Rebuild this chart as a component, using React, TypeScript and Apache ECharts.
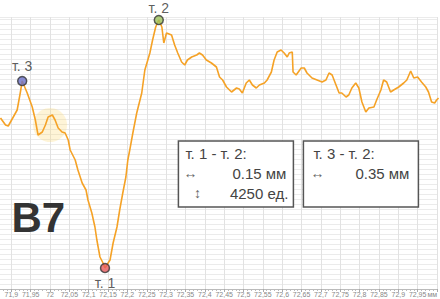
import React, { useEffect, useRef } from "react";
import * as echarts from "echarts";

// profile, x in mm, y in arbitrary units
const xs: number[] = [
  71.872, 71.885, 71.892, 71.905, 71.915, 71.923, 71.928, 71.941, 71.954, 71.962, 71.969, 71.98, 71.988, 71.995,
  72.006, 72.013, 72.021, 72.031, 72.039, 72.047, 72.052, 72.065, 72.072, 72.083, 72.093, 72.098, 72.108, 72.116,
  72.121, 72.129, 72.137, 72.142, 72.155, 72.163, 72.173, 72.18, 72.188, 72.196, 72.201, 72.206, 72.214, 72.224,
  72.237, 72.245, 72.258, 72.265, 72.273, 72.281, 72.289, 72.294, 72.301, 72.314, 72.322, 72.33, 72.34, 72.348,
  72.355, 72.366, 72.379, 72.386, 72.394, 72.404, 72.417, 72.43, 72.438, 72.446, 72.456, 72.469, 72.482, 72.489,
  72.497, 72.507, 72.515, 72.523, 72.533, 72.541, 72.554, 72.561, 72.572, 72.579, 72.587, 72.597, 72.605, 72.613,
  72.618, 72.626, 72.628, 72.636, 72.649, 72.657, 72.664, 72.677, 72.69, 72.703, 72.713, 72.721, 72.729, 72.739,
  72.747, 72.754, 72.765, 72.772, 72.78, 72.79, 72.798, 72.806, 72.816, 72.824, 72.837, 72.844, 72.855, 72.862,
  72.87, 72.88, 72.888, 72.901, 72.914, 72.922, 72.932, 72.94, 72.95, 72.96, 72.971, 72.978, 72.986, 72.994,
  72.999, 73.004,
];
const ys: number[] = [
  171, 164, 163, 172, 179, 196, 208, 196, 182, 169, 154, 157, 164, 172,
  174, 169, 161, 157, 156, 149, 139, 129, 119, 106, 99, 89, 76, 62,
  49, 32, 26, 21, 29, 46, 62, 79, 96, 112, 129, 139, 156, 176,
  196, 219, 236, 249, 262, 269, 262, 246, 256, 254, 244, 236, 227, 224,
  229, 232, 234, 236, 234, 229, 226, 222, 212, 209, 202, 197, 201, 200,
  196, 206, 209, 204, 201, 204, 206, 209, 217, 229, 237, 239, 236, 232,
  236, 237, 217, 214, 221, 221, 216, 211, 209, 207, 209, 216, 214, 204,
  196, 196, 192, 194, 201, 206, 201, 187, 177, 181, 182, 189, 199, 209,
  207, 197, 199, 202, 206, 209, 218, 211, 212, 207, 202, 197, 187, 186,
  189, 191,
];

// marked points
const pointNames: string[] = ["т. 1", "т. 2", "т. 3"];
const pointX: number[] = [72.142, 72.281, 71.928];
const pointY: number[] = [21, 269, 208];
const pointColors: string[] = ["#e85a5c", "#9cc25c", "#6c70c8"];

// highlighted region
const highlightX: number[] = [72.0];
const highlightY: number[] = [164];

// x tick labels
const xMin = 71.85;
const xMax = 73.0;
const xStep = 0.05;
const unitLabel = "мм";

// measurement boxes
const box1Title = "т. 1 - т. 2:";
const box1Dx = "0.15 мм";
const box1Dy = "4250 ед.";
const box2Title = "т. 3 - т. 2:";
const box2Dx = "0.35 мм";
const sampleName = "B7";

const SHIFT = 8.4; // chart canvas starts left of the visible page

export default function App() {
  const ref = useRef<HTMLDivElement>(null);
  useEffect(() => {
    if (!ref.current) return;
    const chart = echarts.init(ref.current, null, { renderer: "svg" });
    const font = "'Liberation Sans', Arial, sans-serif";
    const txt = (x: number, y: number, text: string, align: string, size = 15, color = "#444") => ({
      type: "text",
      x: x + SHIFT,
      y,
      z: 100,
      style: { text, fill: color, font: `${size}px ${font}`, textAlign: align, textVerticalAlign: "middle" },
    });
    const box = (x: number, y: number, w: number, h: number) => ({
      type: "rect",
      z: 99,
      shape: { x: x + SHIFT, y, width: w, height: h },
      style: { fill: "#fff", stroke: "#555", lineWidth: 1.5 },
    });
    chart.setOption({
      animation: false,
      grid: { left: 0, right: 1.5, top: 17, bottom: 10, containLabel: false },
      xAxis: {
        type: "value",
        min: xMin,
        max: xMax,
        interval: xStep,
        axisLine: { show: true, lineStyle: { color: "#bbb", width: 1 } },
        axisTick: { show: true, length: 3, lineStyle: { color: "#aaa" } },
        minorTick: { show: true, splitNumber: 5, length: 2, lineStyle: { color: "#bbb" } },
        splitLine: { show: true, lineStyle: { color: "#e2e2e2", width: 1 } },
        axisLabel: {
          fontSize: 7,
          color: "#888",
          margin: 2,
          fontFamily: font,
          showMinLabel: false,
          alignMaxLabel: "right",
          formatter: (v: number) => {
            const r = Math.round(v * 100) / 100;
            if (Math.abs(r - xMax) < 1e-6) return unitLabel;
            return String(r).replace(".", ",");
          },
        },
      },
      yAxis: {
        type: "value",
        min: 0,
        max: 272,
        interval: 5,
        axisLine: { show: false },
        axisTick: { show: false },
        axisLabel: { show: false },
        splitLine: { show: true, lineStyle: { color: "#ebebeb", width: 1 } },
      },
      series: [
        {
          type: "scatter",
          data: highlightX.map((x, i) => [x, highlightY[i]]),
          symbolSize: 34,
          itemStyle: { color: "rgba(250,215,110,0.35)" },
          silent: true,
          z: 1,
        },
        {
          type: "line",
          data: xs.map((x, i) => [x, ys[i]]),
          showSymbol: false,
          lineStyle: { color: "#f5a226", width: 1.6 },
          z: 2,
        },
        {
          type: "scatter",
          data: pointX.map((x, i) => ({
            name: pointNames[i],
            value: [x, pointY[i]],
            itemStyle: { color: pointColors[i] },
            label: { position: i === 0 ? "bottom" : "top", distance: i === 1 ? 0 : 3 },
          })),
          symbolSize: 9,
          itemStyle: { borderColor: "#333", borderWidth: 1.5 },
          label: {
            show: true,
            formatter: (p: any) => p.name,
            fontSize: 14,
            lineHeight: 14,
            color: "#333",
            fontFamily: font,
          },
          z: 5,
        },
      ],
      graphic: [
        box(178, 141, 115, 66),
        txt(185, 153, box1Title, "left"),
        txt(190, 173, "↔", "center", 14, "#666"),
        txt(286, 173, box1Dx, "right"),
        txt(197, 193, "↕", "center", 14, "#666"),
        txt(288, 193, box1Dy, "right"),
        box(303, 141, 115, 66),
        txt(313, 153, box2Title, "left"),
        txt(317, 173, "↔", "center", 14, "#666"),
        txt(409, 173, box2Dx, "right"),
        {
          type: "text",
          x: 11 + SHIFT,
          y: 217,
          z: 100,
          style: {
            text: sampleName,
            fill: "#333",
            font: `bold 42px ${font}`,
            textAlign: "left",
            textVerticalAlign: "middle",
          },
        },
      ],
    });
    return () => chart.dispose();
  }, []);
  return (
    <div style={{ position: "absolute", left: 0, top: 0, width: 440, height: 299, overflow: "hidden" }}>
      <div ref={ref} style={{ width: 440 + SHIFT, height: 299, position: "absolute", left: -SHIFT, top: 0 }} />
    </div>
  );
}
